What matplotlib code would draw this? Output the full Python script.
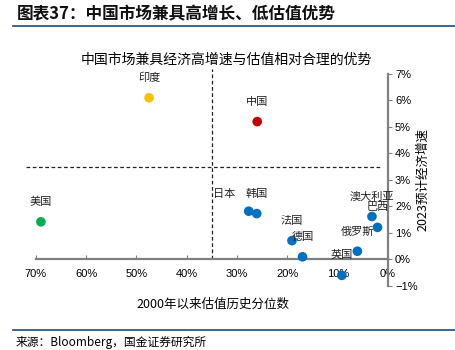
import matplotlib
matplotlib.use("Agg")
import matplotlib.pyplot as plt
from matplotlib.ticker import PercentFormatter

plt.rcParams['font.family'] = ['Noto Sans CJK SC', 'DejaVu Sans']

countries = ['印度', '中国', '美国', '日本', '韩国', '法国', '德国', '英国', '俄罗斯', '澳大利亚', '巴西']
valuation_pct = [0.475, 0.260, 0.690, 0.277, 0.261, 0.191, 0.170, 0.092, 0.061, 0.032, 0.021]
growth_2023 = [0.0610, 0.0520, 0.0142, 0.0182, 0.0173, 0.0071, 0.0010, -0.0060, 0.0031, 0.0162, 0.0121]
colors = ['#FFC000', '#C00000', '#00B050'] + ['#0070C0'] * 8
x_ticks = [0.7, 0.6, 0.5, 0.4, 0.3, 0.2, 0.1, 0.0]
y_ticks = [-0.01, 0.0, 0.01, 0.02, 0.03, 0.04, 0.05, 0.06, 0.07]
growth_line = 0.0347
valuation_line = 0.35

fig = plt.figure(figsize=(4.56, 3.5), dpi=100)
ax = fig.add_axes([0.0566, 0.183, 0.851 - 0.0566, 0.804 - 0.183])

ax.scatter(valuation_pct, growth_2023, s=48, c=colors, zorder=3, linewidths=0)
for name, x, y in zip(countries, valuation_pct, growth_2023):
    dx = 0.048 if name == '日本' else 0.0
    dy = 0.0065 if name == '日本' else 0.0075
    ax.text(x + dx, y + dy, name, ha='center', va='center', fontsize=8, color='#222222')

ax.plot([0.72, 0.014], [growth_line, growth_line], ls=(0, (3, 2)), color='#222222', lw=0.9)
ax.plot([valuation_line, valuation_line], [0.0, 0.072], ls=(0, (3, 2)), color='#222222', lw=0.9)

ax.set_xlim(0.72, 0.0)
ax.set_ylim(-0.01, 0.072)

for s in ['left', 'top']:
    ax.spines[s].set_visible(False)
ax.spines['bottom'].set_position(('data', 0))
ax.spines['right'].set_position(('data', 0))
ax.spines['bottom'].set_bounds(0.0, 0.70)
ax.spines['right'].set_bounds(-0.01, 0.07)
for s in ['bottom', 'right']:
    ax.spines[s].set_color('#808080')
    ax.spines[s].set_linewidth(1.6)

ax.yaxis.tick_right()
ax.set_xticks(x_ticks)
ax.set_yticks(y_ticks)
ax.xaxis.set_major_formatter(PercentFormatter(1.0, decimals=0))
ax.yaxis.set_major_formatter(PercentFormatter(1.0, decimals=0))
ax.tick_params(axis='x', direction='in', length=3, color='#808080', labelsize=8, pad=7)
ax.tick_params(axis='y', direction='out', length=3, color='#808080', labelsize=8, pad=2)
for lab in ax.get_xticklabels() + ax.get_yticklabels():
    lab.set_family(['Liberation Sans', 'DejaVu Sans'])

fig.text(213 / 456, 1 - 304 / 350, '2000年以来估值历史分位数', ha='center', va='center', fontsize=9)
fig.text(423 / 456, 1 - 180 / 350, '2023预计经济增速', rotation=90, ha='center', va='center', fontsize=9)
fig.text(226 / 456, 1 - 60 / 350, '中国市场兼具经济高增速与估值相对合理的优势', ha='center', va='center', fontsize=10)

fig.text(17 / 456, 1 - 14 / 350, '图表37：中国市场兼具高增长、低估值优势', ha='left', va='center',
         fontsize=12, fontweight='bold', color='#111111')
fig.add_artist(plt.Line2D([13 / 456, 1.0], [1 - 26 / 350, 1 - 26 / 350], color='#1F4E79', lw=1.2))
fig.add_artist(plt.Line2D([13 / 456, 1.0], [1 - 330 / 350, 1 - 330 / 350], color='#1F4E79', lw=1.2))
fig.text(16 / 456, 1 - 342 / 350, '来源：Bloomberg，国金证券研究所', ha='left', va='center', fontsize=8.5)

fig.savefig('out.png', dpi=100)
